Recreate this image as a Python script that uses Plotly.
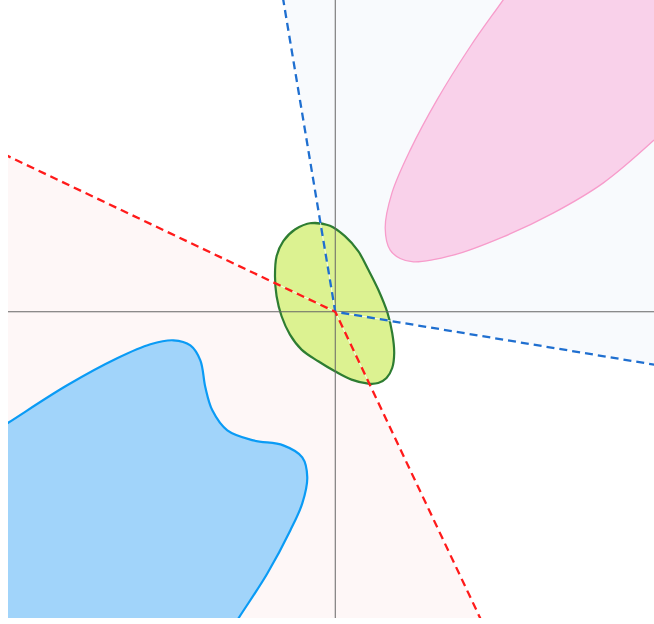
import plotly.graph_objects as go

# ---- data (plot units; origin at the axes crossing) ----
X_RANGE = [-3.275, 3.19]
Y_RANGE = [-3.06, 3.115]

# rays of the two wedges (end points of dashed lines)
blue_ray_a = (-0.52, 3.115)    # up-left
blue_ray_b = (3.19, -0.528)    # right-down
red_ray_a = (-3.275, 1.555)    # left-up
red_ray_b = (1.45, -3.06)      # down-right

# outlines (pixel units, converted below)
green_px = [(311, 222.8), (329.7, 225.6), (344.7, 236), (358, 251), (368, 269.3),
            (378, 289.3), (387.3, 312.7), (392, 332.7), (394, 352.7), (392, 367.7),
            (386.3, 377.7), (378, 382.7), (368, 383.3), (351.3, 379.3), (334.7, 371),
            (318, 361), (301.3, 349.3), (289.7, 334.3), (281.3, 316), (276.3, 296),
            (274.7, 276), (276.3, 256), (283, 241), (294.7, 229.3)]
blue_px = [(-40, 453), (7.3, 422.7), (66.7, 385), (116.7, 358), (150, 344), (173, 340),
           (190, 345), (200, 360), (205, 387), (212, 410), (227, 430), (253, 440), (283, 445),
           (302, 457), (307, 477), (302, 503), (290, 530), (267, 573), (238, 618), (198, 680),
           (-40, 680)]
pink_px = [(560, -80), (503, 0), (470, 46.7), (436.7, 100), (410, 150), (391.7, 193),
           (385, 228), (390, 250), (400, 258.3), (413.3, 261.7), (453, 255), (503, 236.7),
           (553, 213), (603, 183), (654, 140), (700, 95), (760, -80)]

ORIGIN_PX = (335, 311.5)


def conv(pts):
    xs = [(p[0] - ORIGIN_PX[0]) / 100 for p in pts]
    ys = [(ORIGIN_PX[1] - p[1]) / 100 for p in pts]
    return xs, ys


fig = go.Figure()

K = 4
BIG = 12
# blue-gray wedge
fig.add_trace(go.Scatter(
    x=[0, blue_ray_b[0] * K, BIG, blue_ray_a[0] * K, 0],
    y=[0, blue_ray_b[1] * K, BIG, blue_ray_a[1] * K, 0],
    fill='toself', fillcolor='#f8fafd', line=dict(width=0), mode='lines', hoverinfo='skip'))
# pink wedge
fig.add_trace(go.Scatter(
    x=[0, red_ray_a[0] * K, -BIG, red_ray_b[0] * K, 0],
    y=[0, red_ray_a[1] * K, -BIG, red_ray_b[1] * K, 0],
    fill='toself', fillcolor='#fef7f7', line=dict(width=0), mode='lines', hoverinfo='skip'))

# pink blob
px_, py_ = conv(pink_px)
fig.add_trace(go.Scatter(x=px_, y=py_, fill='toself', fillcolor='#f9d1ea', mode='lines',
                         line=dict(color='#f79ccb', width=1.3, shape='spline', simplify=False)))
# blue blob
bx, by = conv(blue_px)
fig.add_trace(go.Scatter(x=bx, y=by, fill='toself', fillcolor='#a1d4fa', mode='lines',
                         line=dict(color='#0a9bf5', width=2.2, shape='spline', simplify=False)))
# green ellipse (wrap first points for a smooth closure)
gx, gy = conv(green_px + green_px[:3])
fig.add_trace(go.Scatter(x=gx, y=gy, fill='toself', fillcolor='#dcf291', mode='lines',
                         line=dict(color='#2e7d32', width=2.2, shape='spline', simplify=False)))

# axes lines
fig.add_trace(go.Scatter(x=[X_RANGE[0] - 1, X_RANGE[1] + 1], y=[0, 0], mode='lines',
                         line=dict(color='#666666', width=1), hoverinfo='skip'))
fig.add_trace(go.Scatter(x=[0, 0], y=[Y_RANGE[0] - 1, Y_RANGE[1] + 1], mode='lines',
                         line=dict(color='#666666', width=1), hoverinfo='skip'))

# dashed rays (with a faint white underlay)
for (a, b), col in [((blue_ray_a, blue_ray_b), '#1f6fd0'), ((red_ray_a, red_ray_b), '#ff1a1a')]:
    xs = [a[0] * 1.05, 0, b[0] * 1.05]
    ys = [a[1] * 1.05, 0, b[1] * 1.05]
    fig.add_trace(go.Scatter(x=xs, y=ys, mode='lines',
                             line=dict(color='rgba(255,255,255,0.8)', width=1), hoverinfo='skip'))
    fig.add_trace(go.Scatter(x=xs, y=ys, mode='lines',
                             line=dict(color=col, width=2.3, dash='8px,5px'), hoverinfo='skip'))

fig.update_layout(
    width=654, height=624,
    margin=dict(l=8, r=0, t=0, b=6, pad=0),
    paper_bgcolor='white', plot_bgcolor='white',
    showlegend=False,
    xaxis=dict(range=X_RANGE, showgrid=False, zeroline=False, showticklabels=False,
               ticks='', showline=False, fixedrange=True),
    yaxis=dict(range=Y_RANGE, showgrid=False, zeroline=False, showticklabels=False,
               ticks='', showline=False, fixedrange=True),
)

fig.write_html("out.html", config=dict(displayModeBar=False),
               post_script="document.body.style.margin='0';")
